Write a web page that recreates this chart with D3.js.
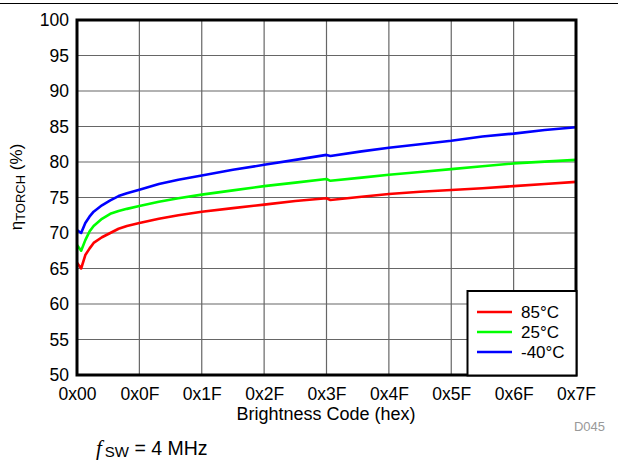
<!DOCTYPE html>
<html>
<head>
<meta charset="utf-8">
<script src="https://cdn.jsdelivr.net/npm/d3@7"></script>
<style>
html,body{margin:0;padding:0;background:#fff;}
svg{display:block;font-family:"Liberation Sans",Arial,sans-serif;}
</style>
</head>
<body>
<svg id="chart" width="618" height="460"></svg>
<script>
// ---- data ----
const tickCodes = [0, 15, 31, 47, 63, 79, 95, 111, 127];
const tickLabels = ["0x00", "0x0F", "0x1F", "0x2F", "0x3F", "0x4F", "0x5F", "0x6F", "0x7F"];
const yTicks = [50, 55, 60, 65, 70, 75, 80, 85, 90, 95, 100];
const codes = [0, 1, 2, 3, 4, 6, 8, 10, 12, 15, 20, 25, 31, 39, 47, 55, 63, 64, 72, 79, 87, 95, 103, 111, 119, 127];
const eff85 = [65.8, 65.0, 66.9, 67.8, 68.6, 69.4, 70.0, 70.6, 71.0, 71.4, 72.0, 72.5, 73.0, 73.5, 74.0, 74.5, 74.9, 74.65, 75.1, 75.5, 75.8, 76.05, 76.3, 76.6, 76.9, 77.2];
const eff25 = [68.3, 67.5, 69.0, 70.2, 71.0, 72.0, 72.7, 73.1, 73.4, 73.8, 74.4, 74.9, 75.4, 76.0, 76.6, 77.1, 77.6, 77.35, 77.8, 78.2, 78.6, 79.0, 79.4, 79.8, 80.05, 80.3];
const effM40 = [70.4, 70.0, 71.4, 72.3, 73.0, 73.9, 74.6, 75.2, 75.6, 76.1, 76.9, 77.5, 78.1, 78.9, 79.6, 80.3, 81.0, 80.85, 81.5, 82.0, 82.5, 83.0, 83.6, 84.0, 84.5, 84.9];
const seriesNames = ["85°C", "25°C", "-40°C"];
const seriesColors = ["#ff0000", "#00ff00", "#0000ff"];
const seriesValues = [eff85, eff25, effM40];

// ---- layout ----
const svg = d3.select("#chart");
const L = 77, R = 576, T = 20, B = 375;
const rangeX = tickCodes.map((d, i) => L + i * (R - L) / (tickCodes.length - 1));
const x = d3.scaleLinear().domain(tickCodes).range(rangeX);
const y = d3.scaleLinear().domain([50, 100]).range([B, T]);
const FS = 17;

// top rule
svg.append("line").attr("x1", 0).attr("x2", 618).attr("y1", 3.5).attr("y2", 3.5)
  .attr("stroke", "#000").attr("stroke-width", 1);

// grid
const grid = svg.append("g");
grid.selectAll("line.v").data(tickCodes.slice(1, -1)).enter().append("line")
  .attr("x1", d => x(d)).attr("x2", d => x(d)).attr("y1", T).attr("y2", B)
  .attr("stroke", "#666").attr("stroke-width", 1.2);
grid.selectAll("line.h").data(yTicks.slice(1, -1)).enter().append("line")
  .attr("x1", L).attr("x2", R).attr("y1", d => y(d)).attr("y2", d => y(d))
  .attr("stroke", "#666").attr("stroke-width", 1.2);

// axes labels via d3 axes
const xAxis = d3.axisBottom(x).tickValues(tickCodes).tickFormat((d, i) => tickLabels[i]).tickSize(0).tickPadding(13);
const gx = svg.append("g").attr("transform", `translate(0,${B})`).call(xAxis);
gx.select(".domain").remove();
gx.selectAll("text").attr("font-size", 17.5).attr("fill", "#000").attr("font-family", "Liberation Sans, Arial, sans-serif");

const yAxis = d3.axisLeft(y).tickValues(yTicks).tickSize(0).tickPadding(8);
const gy = svg.append("g").attr("transform", `translate(${L},0)`).call(yAxis);
gy.select(".domain").remove();
gy.selectAll("text").attr("font-size", 17.5).attr("fill", "#000").attr("font-family", "Liberation Sans, Arial, sans-serif");

// lines
const line = d3.line().x((d, i) => x(codes[i])).y(d => y(d));
seriesValues.forEach((vals, k) => {
  svg.append("path").datum(vals).attr("d", line)
    .attr("fill", "none").attr("stroke", seriesColors[k]).attr("stroke-width", 2.6)
    .attr("stroke-linejoin", "round");
});

// frame
svg.append("rect").attr("x", L).attr("y", T).attr("width", R - L).attr("height", B - T)
  .attr("fill", "none").attr("stroke", "#000").attr("stroke-width", 3);

// legend
const lg = svg.append("g");
lg.append("rect").attr("x", 467.5).attr("y", 291).attr("width", 109).attr("height", 84.5)
  .attr("fill", "#fff").attr("stroke", "#000").attr("stroke-width", 2);
seriesNames.forEach((n, k) => {
  const yy = 312 + k * 20;
  lg.append("line").attr("x1", 477).attr("x2", 512).attr("y1", yy).attr("y2", yy)
    .attr("stroke", seriesColors[k]).attr("stroke-width", 2.6);
  lg.append("text").attr("x", 521).attr("y", yy).attr("dy", "0.35em")
    .attr("font-size", FS).text(n);
});

// axis titles
svg.append("text").attr("x", 326).attr("y", 420).attr("text-anchor", "middle")
  .attr("font-size", 18).text("Brightness Code (hex)");

const yt = svg.append("text").attr("transform", "translate(22,187) rotate(-90)")
  .attr("text-anchor", "middle").attr("font-size", FS);
yt.append("tspan").text("η");
yt.append("tspan").attr("font-size", 13).attr("dy", 3).text("TORCH");
yt.append("tspan").attr("dy", -3).text(" (%)");

// figure id
svg.append("text").attr("x", 605).attr("y", 431).attr("text-anchor", "end")
  .attr("font-size", 13).attr("fill", "#999").text("D045");

// condition note
const note = svg.append("text").attr("x", 96).attr("y", 455).attr("font-size", 19.5);
note.append("tspan").attr("font-style", "italic").attr("font-family", "Liberation Serif, serif").attr("font-size", 21).text("f");
note.append("tspan").attr("font-size", 15).attr("dy", 1.5).attr("dx", 3).text("SW");
note.append("tspan").attr("dy", -1.5).text(" = 4 MHz");
</script>
</body>
</html>
